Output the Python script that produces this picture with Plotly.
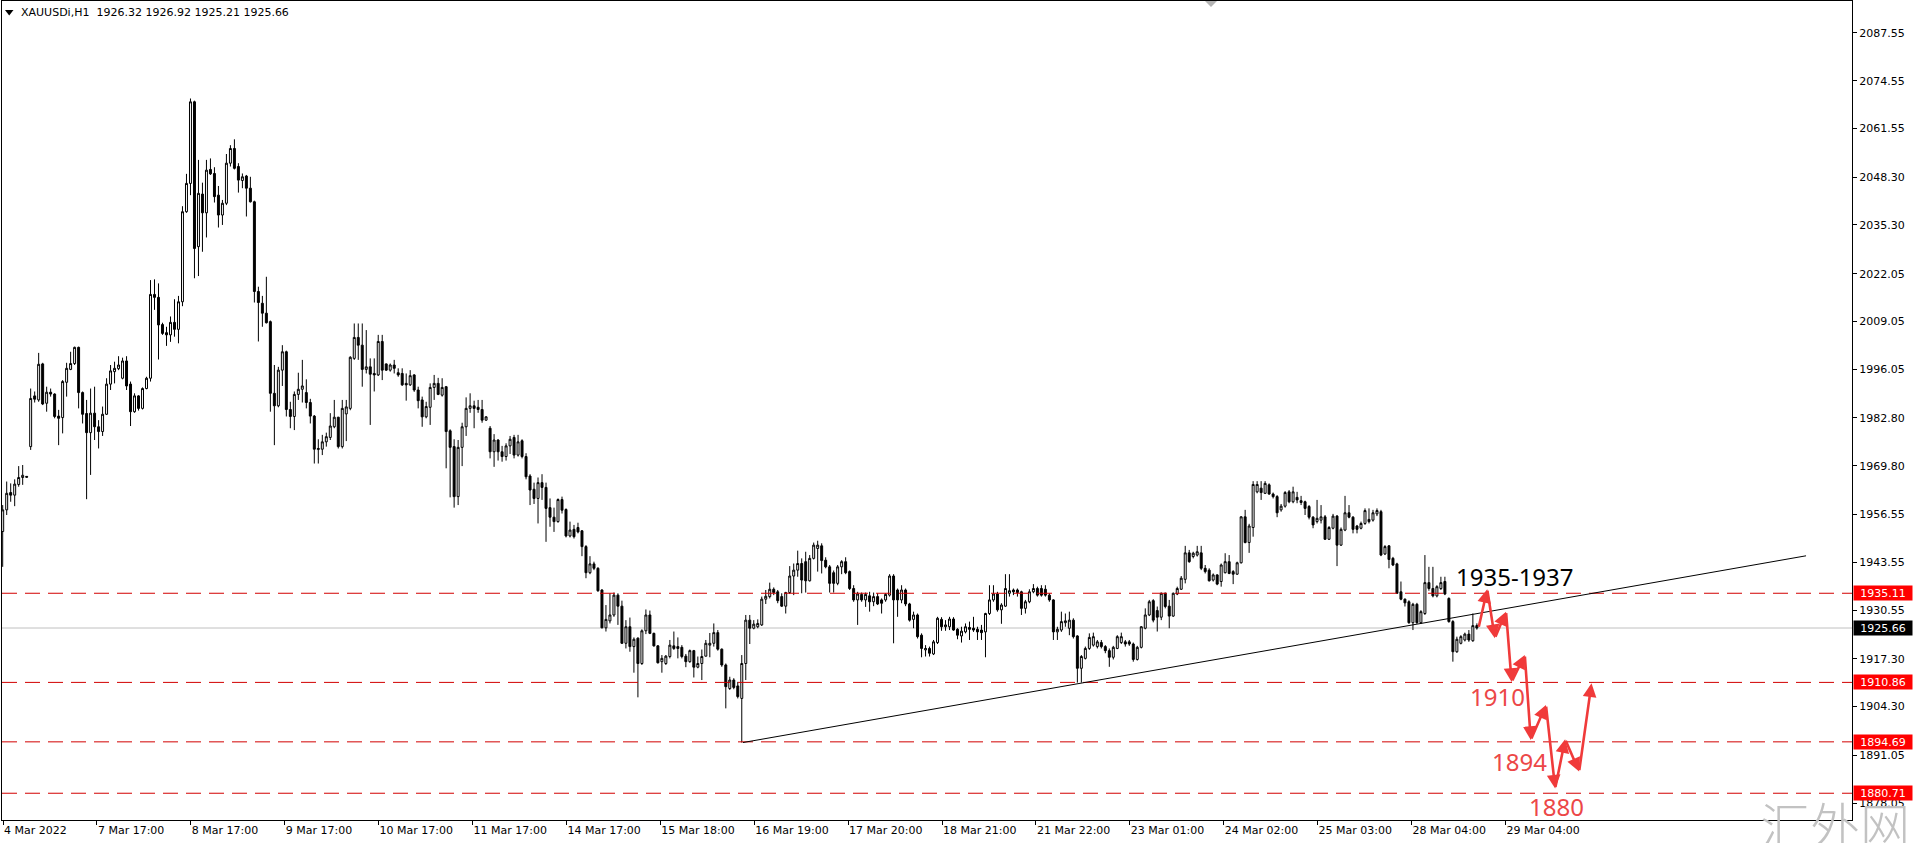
import plotly.graph_objects as go

# ---------------- data (XAUUSDi, H1) ----------------
opens = [
    1951.9, 1957.8, 1962.5, 1961.8, 1964.7, 1966.6, 1966.9, 1975.0, 1988.8, 1987.7,
    1997.5, 1986.8, 1989.8, 1989.3, 1983.3, 1982.9, 1992.5, 1996.0, 1997.6, 2002.0,
    1989.7, 1984.0, 1978.8, 1984.1, 1980.4, 1979.1, 1983.8, 1992.0, 1995.4, 1996.2,
    1993.6, 1998.3, 1992.0, 1984.5, 1988.8, 1985.4, 1990.8, 1993.6, 2016.4, 2015.6,
    2008.2, 2006.0, 2005.4, 2008.8, 2006.9, 2014.4, 2038.9, 2046.6, 2068.8, 2029.4,
    2043.7, 2038.6, 2050.4, 2049.3, 2043.4, 2038.0, 2041.2, 2052.1, 2056.1, 2051.2,
    2047.4, 2048.6, 2045.3, 2041.6, 2017.2, 2014.0, 2011.3, 2009.0, 1989.5, 1986.1,
    1995.8, 2000.8, 1985.1, 1983.2, 1989.2, 1990.6, 1989.7, 1987.0, 1983.3, 1974.2,
    1974.3, 1976.3, 1977.5, 1980.4, 1983.0, 1975.0, 1983.9, 1985.4, 1999.0, 2004.7,
    2002.6, 1996.0, 1996.7, 1994.9, 1994.5, 2003.6, 1997.5, 1995.8, 1997.2, 1995.1,
    1994.9, 1992.2, 1991.8, 1994.5, 1990.4, 1987.7, 1983.1, 1985.7, 1991.1, 1992.2,
    1989.0, 1991.3, 1979.3, 1975.0, 1961.4, 1974.8, 1980.4, 1985.4, 1986.1, 1985.7,
    1985.1, 1982.2, 1980.0, 1973.6, 1976.8, 1973.6, 1972.3, 1975.2, 1977.5, 1972.7,
    1976.6, 1972.3, 1967.0, 1963.4, 1960.9, 1965.2, 1963.9, 1958.4, 1955.8, 1954.6,
    1960.6, 1957.9, 1950.7, 1952.5, 1953.0, 1952.1, 1947.8, 1940.7, 1943.1, 1941.9,
    1936.0, 1925.7, 1927.6, 1929.2, 1934.6, 1931.6, 1921.5, 1926.0, 1920.6, 1922.9,
    1916.0, 1924.9, 1929.2, 1924.2, 1920.8, 1916.5, 1916.0, 1917.9, 1920.8, 1920.6,
    1920.4, 1918.0, 1916.5, 1919.5, 1915.0, 1916.0, 1918.0, 1921.0, 1921.5, 1924.4,
    1919.9, 1915.6, 1909.2, 1911.5, 1909.9, 1906.5, 1916.0, 1927.8, 1925.6, 1926.0,
    1926.5, 1933.5, 1934.2, 1936.2, 1935.5, 1934.2, 1931.6, 1935.3, 1939.8, 1941.4,
    1943.2, 1943.7, 1938.5, 1944.6, 1947.3, 1948.0, 1944.1, 1942.3, 1940.7, 1937.8,
    1942.3, 1943.7, 1941.0, 1936.4, 1933.3, 1934.8, 1933.3, 1934.4, 1932.8, 1934.2,
    1933.3, 1933.3, 1934.6, 1939.8, 1936.0, 1933.3, 1936.0, 1932.2, 1928.0, 1929.2,
    1923.7, 1919.7, 1920.1, 1918.6, 1921.7, 1928.0, 1926.0, 1926.0, 1928.1, 1925.3,
    1923.5, 1924.6, 1925.8, 1925.6, 1925.3, 1925.1, 1924.6, 1929.6, 1933.3, 1934.9,
    1930.6, 1931.6, 1935.1, 1936.0, 1936.0, 1935.5, 1931.0, 1932.8, 1935.5, 1936.4,
    1936.4, 1936.2, 1934.6, 1933.3, 1924.6, 1925.1, 1927.1, 1925.6, 1927.8, 1923.5,
    1914.7, 1917.4, 1920.1, 1921.0, 1920.6, 1921.7, 1920.6, 1919.5, 1917.7, 1920.1,
    1921.7, 1921.9, 1921.9, 1921.3, 1917.1, 1920.4, 1925.6, 1929.2, 1933.1, 1930.4,
    1928.6, 1935.1, 1931.6, 1928.9, 1934.9, 1936.2, 1938.9, 1946.1, 1945.1, 1945.5,
    1946.1, 1941.9, 1941.4, 1938.7, 1940.1, 1938.3, 1940.7, 1943.7, 1941.0, 1940.3,
    1943.4, 1955.9, 1948.9, 1953.0, 1962.7, 1963.7, 1962.3, 1964.6, 1962.1, 1961.4,
    1957.8, 1958.8, 1962.7, 1960.0, 1961.2, 1960.3, 1960.0, 1958.7, 1955.8, 1954.6,
    1955.0, 1955.9, 1949.8, 1952.8, 1956.1, 1948.2, 1952.3, 1957.0, 1955.8, 1953.4,
    1952.8, 1954.1, 1955.2, 1955.0, 1956.7, 1957.3, 1945.8, 1948.0, 1944.6, 1943.1,
    1935.5, 1933.5, 1932.8, 1927.1, 1932.1, 1927.1, 1929.6, 1938.0, 1936.4, 1934.4,
    1936.4, 1938.3, 1933.7, 1927.4, 1919.2, 1921.5, 1922.4, 1924.0, 1922.2, 1926.32,
]
highs = [
    1959.1, 1965.5, 1965.0, 1966.1, 1969.7, 1970.0, 1967.0, 1990.8, 1990.0, 2000.5,
    1997.8, 1991.3, 1990.8, 1989.5, 1985.0, 1993.1, 1997.8, 2000.8, 2002.2, 2002.2,
    1990.0, 1987.7, 1990.8, 1991.3, 1982.2, 1985.9, 1993.6, 1997.2, 1998.1, 1999.6,
    1999.2, 1999.6, 1992.7, 1989.5, 1989.0, 1991.1, 1994.0, 2020.3, 2020.5, 2019.4,
    2008.7, 2007.6, 2010.4, 2015.1, 2016.0, 2040.4, 2049.2, 2069.7, 2069.1, 2053.0,
    2046.8, 2053.0, 2053.4, 2051.0, 2045.9, 2042.1, 2054.6, 2057.0, 2058.6, 2052.1,
    2049.3, 2048.9, 2048.4, 2041.9, 2018.5, 2016.0, 2021.2, 2009.3, 1997.2, 1996.7,
    2002.6, 2001.1, 1987.2, 1990.0, 1995.1, 1998.6, 1993.3, 1988.0, 1983.6, 1977.0,
    1978.2, 1978.8, 1984.1, 1987.7, 1983.1, 1987.7, 1987.7, 1999.6, 2008.5, 2008.5,
    2008.5, 2006.7, 1999.0, 1999.0, 2005.4, 2005.4, 1997.6, 1997.6, 1998.6, 1996.3,
    1996.3, 1994.9, 1995.8, 1994.7, 1991.3, 1988.6, 1987.2, 1992.2, 1994.5, 1993.7,
    1993.6, 1991.5, 1979.7, 1977.0, 1976.8, 1981.5, 1988.4, 1989.5, 1987.5, 1987.7,
    1987.7, 1983.3, 1980.6, 1978.4, 1977.0, 1975.2, 1975.9, 1977.9, 1978.2, 1978.2,
    1977.0, 1973.2, 1967.5, 1965.2, 1966.6, 1967.5, 1965.2, 1960.9, 1958.4, 1960.9,
    1961.4, 1958.2, 1954.6, 1953.7, 1954.3, 1952.3, 1948.2, 1945.2, 1943.7, 1942.2,
    1936.2, 1931.9, 1935.1, 1935.3, 1935.1, 1933.1, 1927.8, 1928.5, 1923.1, 1923.1,
    1925.3, 1930.7, 1930.4, 1924.4, 1921.0, 1918.3, 1918.3, 1922.4, 1924.7, 1923.1,
    1921.0, 1918.6, 1919.8, 1919.7, 1917.9, 1919.8, 1922.4, 1924.3, 1926.9, 1925.1,
    1920.1, 1916.0, 1912.4, 1912.0, 1911.0, 1918.3, 1929.2, 1929.2, 1927.8, 1928.0,
    1934.2, 1936.0, 1938.0, 1936.7, 1936.0, 1935.1, 1935.5, 1942.5, 1943.2, 1946.7,
    1944.6, 1946.4, 1945.5, 1948.9, 1949.4, 1948.7, 1944.9, 1942.8, 1941.3, 1942.8,
    1944.1, 1944.9, 1941.3, 1937.3, 1935.5, 1935.3, 1935.3, 1935.5, 1935.3, 1935.1,
    1933.7, 1935.1, 1940.3, 1940.3, 1936.4, 1937.3, 1936.4, 1932.5, 1930.1, 1929.6,
    1924.2, 1921.0, 1920.6, 1922.4, 1928.7, 1928.6, 1927.8, 1928.7, 1928.6, 1925.6,
    1926.0, 1926.9, 1927.4, 1928.7, 1926.0, 1926.5, 1929.8, 1937.3, 1937.3, 1935.5,
    1932.4, 1940.3, 1940.3, 1936.4, 1936.4, 1935.8, 1933.3, 1936.2, 1937.6, 1936.9,
    1937.3, 1937.3, 1935.1, 1933.5, 1926.0, 1930.1, 1929.6, 1930.1, 1928.3, 1923.7,
    1918.3, 1920.6, 1924.2, 1924.4, 1922.4, 1922.4, 1921.0, 1920.1, 1920.8, 1923.7,
    1924.4, 1922.4, 1922.4, 1921.7, 1920.8, 1926.2, 1931.0, 1933.3, 1933.5, 1931.5,
    1935.3, 1935.3, 1933.3, 1935.3, 1936.9, 1939.8, 1948.0, 1946.9, 1946.4, 1948.0,
    1948.0, 1942.8, 1941.9, 1940.5, 1940.3, 1943.2, 1946.0, 1945.5, 1941.4, 1943.7,
    1956.1, 1957.8, 1954.0, 1965.6, 1965.6, 1965.6, 1965.6, 1965.0, 1962.5, 1961.8,
    1959.4, 1962.9, 1963.2, 1964.1, 1962.7, 1961.6, 1960.3, 1959.1, 1956.1, 1960.5,
    1959.1, 1956.4, 1953.4, 1956.7, 1956.4, 1953.0, 1961.6, 1959.1, 1956.1, 1953.7,
    1954.6, 1958.2, 1958.2, 1957.8, 1958.2, 1957.8, 1948.2, 1948.2, 1945.0, 1943.4,
    1938.3, 1933.7, 1933.2, 1932.5, 1932.5, 1930.5, 1945.5, 1942.3, 1942.3, 1937.3,
    1939.6, 1939.6, 1934.0, 1927.8, 1923.3, 1923.7, 1924.4, 1925.1, 1929.6, 1926.92,
]
lows = [
    1942.3, 1956.4, 1960.0, 1958.8, 1964.1, 1964.6, 1966.6, 1974.1, 1987.0, 1987.2,
    1986.3, 1984.5, 1988.6, 1982.7, 1975.4, 1978.6, 1988.6, 1995.8, 1997.2, 1985.4,
    1981.3, 1960.7, 1967.3, 1976.8, 1974.5, 1977.9, 1983.6, 1990.4, 1992.2, 1995.8,
    1993.3, 1990.4, 1980.6, 1984.2, 1984.8, 1985.1, 1990.6, 1992.7, 2012.2, 1998.7,
    2005.4, 2002.4, 2003.5, 2004.9, 2003.1, 2013.2, 2038.6, 2043.4, 2020.8, 2021.4,
    2028.0, 2031.9, 2048.9, 2041.4, 2034.6, 2035.3, 2040.7, 2051.2, 2050.4, 2044.1,
    2045.3, 2037.6, 2041.4, 2014.2, 2003.6, 2007.6, 2008.5, 1984.5, 1975.4, 1985.7,
    1991.5, 1983.2, 1980.0, 1979.5, 1987.7, 1987.0, 1985.4, 1981.3, 1970.4, 1970.4,
    1972.7, 1975.0, 1976.8, 1980.0, 1974.5, 1974.5, 1976.5, 1984.9, 1998.6, 1998.6,
    1991.3, 1994.9, 1980.9, 1990.0, 1994.2, 1993.1, 1995.6, 1995.4, 1994.9, 1994.0,
    1991.5, 1987.5, 1991.5, 1989.9, 1985.4, 1980.4, 1982.7, 1980.9, 1987.7, 1989.0,
    1988.6, 1969.1, 1961.2, 1958.4, 1959.1, 1969.7, 1977.9, 1984.2, 1980.0, 1984.2,
    1981.5, 1982.0, 1971.8, 1969.5, 1971.2, 1970.9, 1971.2, 1973.0, 1971.8, 1972.3,
    1971.8, 1966.1, 1959.1, 1959.4, 1954.1, 1960.5, 1949.1, 1953.2, 1951.8, 1954.3,
    1956.8, 1950.3, 1950.3, 1950.0, 1951.4, 1945.2, 1939.2, 1940.3, 1941.4, 1935.5,
    1925.6, 1924.7, 1926.9, 1928.7, 1926.5, 1921.3, 1920.1, 1919.2, 1913.5, 1906.8,
    1915.6, 1924.0, 1924.0, 1920.6, 1916.0, 1913.5, 1915.6, 1917.4, 1919.7, 1917.4,
    1917.4, 1915.0, 1916.2, 1912.2, 1914.7, 1911.5, 1917.9, 1917.7, 1920.6, 1919.5,
    1915.1, 1903.8, 1908.8, 1909.0, 1906.5, 1894.5, 1911.5, 1921.3, 1925.3, 1925.6,
    1926.2, 1932.2, 1933.7, 1934.6, 1932.4, 1931.4, 1929.6, 1934.9, 1934.6, 1939.6,
    1935.1, 1935.3, 1938.3, 1944.3, 1941.0, 1940.5, 1941.9, 1935.3, 1935.3, 1937.3,
    1940.3, 1940.3, 1936.0, 1932.8, 1926.5, 1932.8, 1931.4, 1930.1, 1931.6, 1931.9,
    1929.6, 1932.8, 1934.2, 1921.5, 1928.7, 1932.4, 1931.6, 1927.4, 1925.6, 1922.8,
    1917.7, 1917.9, 1917.9, 1918.3, 1921.3, 1924.9, 1924.9, 1925.1, 1924.9, 1922.6,
    1921.7, 1924.2, 1922.4, 1924.6, 1922.4, 1922.4, 1917.7, 1929.2, 1932.8, 1930.1,
    1926.8, 1931.4, 1934.2, 1934.6, 1934.2, 1929.2, 1929.6, 1932.4, 1935.1, 1934.2,
    1934.2, 1934.2, 1932.8, 1922.4, 1922.4, 1924.6, 1926.0, 1923.7, 1922.8, 1910.8,
    1910.8, 1917.1, 1919.7, 1920.6, 1920.1, 1920.1, 1918.8, 1915.1, 1917.1, 1919.9,
    1921.3, 1920.6, 1920.8, 1916.5, 1916.8, 1920.1, 1925.3, 1928.9, 1927.2, 1924.7,
    1927.8, 1931.0, 1925.6, 1928.7, 1934.6, 1936.0, 1937.8, 1943.4, 1944.6, 1945.1,
    1941.4, 1940.5, 1938.3, 1938.3, 1937.3, 1936.9, 1940.5, 1940.3, 1937.6, 1940.1,
    1943.2, 1948.7, 1946.1, 1950.5, 1962.3, 1960.5, 1962.1, 1961.9, 1960.9, 1955.8,
    1957.3, 1958.4, 1959.6, 1959.6, 1959.6, 1959.1, 1956.4, 1955.2, 1952.8, 1954.1,
    1954.1, 1949.6, 1949.6, 1952.5, 1942.5, 1948.0, 1952.0, 1955.5, 1951.4, 1951.4,
    1952.5, 1953.7, 1954.1, 1954.6, 1956.1, 1945.2, 1945.5, 1941.9, 1942.5, 1934.9,
    1933.2, 1931.5, 1926.8, 1925.1, 1926.8, 1926.8, 1929.2, 1935.8, 1934.0, 1934.0,
    1936.0, 1934.6, 1927.1, 1916.5, 1918.9, 1921.2, 1922.0, 1921.9, 1921.9, 1925.21,
]
closes = [
    1957.8, 1962.3, 1961.8, 1964.8, 1966.6, 1967.2, 1966.7, 1988.1, 1987.9, 1997.4,
    1986.6, 1989.8, 1989.3, 1983.2, 1982.7, 1992.7, 1996.3, 1997.6, 2002.0, 1989.7,
    1983.8, 1978.8, 1984.1, 1980.4, 1979.1, 1983.8, 1992.0, 1995.6, 1996.3, 1997.2,
    1998.3, 1991.5, 1984.5, 1988.8, 1985.4, 1990.8, 1993.6, 2016.4, 2015.6, 2008.1,
    2005.8, 2005.4, 2008.8, 2006.9, 2014.4, 2038.9, 2046.6, 2068.8, 2028.9, 2043.9,
    2038.6, 2050.2, 2049.2, 2043.0, 2038.0, 2041.2, 2052.1, 2056.1, 2050.7, 2047.5,
    2048.4, 2045.3, 2041.6, 2017.2, 2014.2, 2011.3, 2008.7, 1989.5, 1986.1, 1995.8,
    2000.8, 1985.1, 1983.2, 1989.2, 1990.6, 1991.5, 1987.0, 1983.3, 1974.3, 1974.5,
    1976.3, 1977.7, 1980.6, 1983.0, 1975.0, 1985.4, 1985.8, 1999.3, 2004.7, 2002.6,
    1996.0, 1996.7, 1994.7, 1994.5, 2003.6, 1995.8, 1995.8, 1997.2, 1996.3, 1994.5,
    1991.8, 1991.8, 1994.3, 1990.4, 1987.5, 1983.1, 1985.9, 1991.1, 1992.2, 1989.2,
    1991.1, 1979.1, 1974.8, 1961.4, 1974.8, 1980.4, 1985.4, 1986.1, 1985.4, 1985.1,
    1982.2, 1983.1, 1973.6, 1976.8, 1973.6, 1972.3, 1975.2, 1977.0, 1972.7, 1976.3,
    1972.3, 1966.8, 1963.2, 1960.9, 1965.2, 1963.9, 1958.2, 1955.8, 1954.6, 1960.6,
    1957.7, 1950.7, 1952.3, 1950.5, 1951.8, 1947.8, 1940.7, 1943.1, 1941.9, 1935.8,
    1925.7, 1928.0, 1929.2, 1934.6, 1931.6, 1921.5, 1926.0, 1920.6, 1922.6, 1916.0,
    1924.9, 1929.2, 1924.2, 1920.8, 1916.2, 1917.4, 1918.0, 1921.0, 1920.1, 1920.1,
    1917.9, 1916.5, 1919.5, 1915.0, 1916.0, 1917.9, 1921.5, 1921.5, 1924.4, 1919.9,
    1915.6, 1909.7, 1911.5, 1909.5, 1907.0, 1916.0, 1927.8, 1925.6, 1926.7, 1926.9,
    1933.5, 1934.3, 1936.2, 1935.3, 1933.1, 1931.6, 1935.3, 1939.8, 1941.4, 1943.2,
    1938.7, 1938.5, 1944.6, 1948.2, 1948.2, 1944.0, 1942.3, 1937.8, 1937.8, 1942.3,
    1943.7, 1940.7, 1936.4, 1933.3, 1934.9, 1933.3, 1934.8, 1932.8, 1934.2, 1932.2,
    1932.4, 1934.8, 1939.8, 1933.3, 1933.3, 1936.0, 1932.2, 1927.8, 1929.2, 1923.3,
    1920.1, 1920.1, 1918.8, 1921.9, 1928.3, 1926.0, 1926.5, 1928.1, 1925.1, 1923.7,
    1924.8, 1926.0, 1925.3, 1925.1, 1924.6, 1924.4, 1929.6, 1933.3, 1934.9, 1930.6,
    1931.9, 1936.4, 1935.8, 1935.5, 1935.3, 1931.0, 1932.8, 1935.5, 1936.4, 1934.6,
    1934.6, 1934.6, 1933.3, 1924.6, 1925.3, 1927.4, 1927.6, 1927.8, 1923.3, 1914.7,
    1917.9, 1920.1, 1923.1, 1923.3, 1921.9, 1920.6, 1919.5, 1917.7, 1920.4, 1923.3,
    1923.3, 1921.3, 1921.3, 1917.1, 1920.4, 1926.0, 1929.2, 1932.8, 1927.8, 1928.6,
    1935.1, 1931.5, 1928.9, 1935.1, 1936.4, 1939.2, 1946.1, 1943.7, 1946.0, 1946.4,
    1941.9, 1941.0, 1938.5, 1940.1, 1937.6, 1942.8, 1943.7, 1940.5, 1940.3, 1943.4,
    1955.9, 1948.9, 1953.4, 1964.7, 1964.7, 1962.5, 1965.0, 1962.1, 1961.4, 1957.0,
    1958.8, 1962.5, 1960.0, 1962.7, 1960.5, 1959.8, 1958.2, 1955.8, 1953.7, 1955.5,
    1955.9, 1949.8, 1953.0, 1956.1, 1948.2, 1952.5, 1957.0, 1955.8, 1952.5, 1952.5,
    1954.1, 1957.6, 1954.6, 1957.0, 1957.6, 1945.5, 1947.8, 1944.3, 1942.8, 1935.1,
    1933.5, 1932.5, 1927.1, 1932.1, 1927.1, 1930.1, 1938.0, 1936.4, 1934.4, 1936.9,
    1938.0, 1934.9, 1927.4, 1919.2, 1922.6, 1923.3, 1924.0, 1922.4, 1926.3, 1925.66,
]

symbol_title = "XAUUSDi,H1\u00a0\u00a01926.32 1926.92 1925.21 1925.66"
price_ticks = [2087.55, 2074.55, 2061.55, 2048.30, 2035.30, 2022.05, 2009.05, 1996.05,
               1982.80, 1969.80, 1956.55, 1943.55, 1930.55, 1917.30, 1904.30, 1891.05, 1878.05]
time_labels = ["4 Mar 2022", "7 Mar 17:00", "8 Mar 17:00", "9 Mar 17:00", "10 Mar 17:00",
               "11 Mar 17:00", "14 Mar 17:00", "15 Mar 18:00", "16 Mar 19:00", "17 Mar 20:00",
               "18 Mar 21:00", "21 Mar 22:00", "23 Mar 01:00", "24 Mar 02:00", "25 Mar 03:00",
               "28 Mar 04:00", "29 Mar 04:00"]
level_prices = [1935.11, 1910.86, 1894.69, 1880.71]
bid_price = 1925.66
# trend line anchors: (bar index, price)
trend_a = (185.3, 1894.5)
trend_b = (451.4, 1945.3)
# forecast zig-zag: bar positions (beyond last bar) and prices
forecast_bars = [369.4, 371.6, 373.5, 376.3, 377.7, 381.0, 382.5, 386.3, 388.6, 391.1, 394.6, 397.7]
forecast_prices = [1925.6, 1936.2, 1922.9, 1930.1, 1911.0, 1918.3, 1895.2, 1904.7, 1882.0, 1895.4, 1886.6, 1910.6]
notes = [("1935-1937", 363.3, 1939.6, "black"),
         ("1910", 366.9, 1907.0, "red"),
         ("1894", 372.3, 1889.3, "red"),
         ("1880", 381.5, 1877.0, "red")]

# ---------------- geometry ----------------
W, H = 1918, 843
PL, PR, PT, PB = 2, 1852, 1, 820
BAR_PX = 3.995
FIRST_PX = 2.7
Y_LO, Y_HI = 1873.43, 2096.22


def bar_of_px(px):
    return (px - FIRST_PX) / BAR_PX


def xp(px):
    return (px - PL) / (PR - PL)


def yp(py):
    return (PB - py) / (PB - PT)


RED_LINE = "#D20000"
RED_ARROW = "#F03A3A"
RED_TEXT = "#EC4747"
FONT = "DejaVu Sans"

bars = list(range(len(opens)))
time_tick_px = [3 + 93.9 * k for k in range(len(time_labels))]

fig = go.Figure()
fig.add_trace(go.Candlestick(
    x=bars, open=opens, high=highs, low=lows, close=closes,
    increasing=dict(line=dict(color="black", width=1), fillcolor="white"),
    decreasing=dict(line=dict(color="black", width=1), fillcolor="black"),
    whiskerwidth=0, hoverinfo="skip", showlegend=False,
))

shapes = []
for lv in level_prices:
    shapes.append(dict(type="line", xref="paper", yref="y", x0=0, x1=1, y0=lv, y1=lv,
                       line=dict(color=RED_LINE, width=1, dash="15px,8px"), layer="above"))
shapes.append(dict(type="line", xref="paper", yref="y", x0=0, x1=1, y0=bid_price, y1=bid_price,
                   line=dict(color="#C0C0C0", width=1), layer="below"))
shapes.append(dict(type="line", xref="x", yref="y", x0=trend_a[0], y0=trend_a[1],
                   x1=trend_b[0], y1=trend_b[1], line=dict(color="black", width=1)))
# symbol menu triangle
shapes.append(dict(type="path", xref="paper", yref="paper",
                   path=f"M{xp(5)},{yp(10)} L{xp(13.5)},{yp(10)} L{xp(9.2)},{yp(15.5)} Z",
                   fillcolor="black", line=dict(width=0)))
# chart shift marker
shapes.append(dict(type="path", xref="paper", yref="paper",
                   path=f"M{xp(1205)},{yp(1)} L{xp(1217)},{yp(1)} L{xp(1211)},{yp(7)} Z",
                   fillcolor="#B4B4B4", line=dict(width=0)))

annotations = []
annotations.append(dict(xref="paper", yref="paper", x=xp(19), y=yp(12.5), xanchor="left",
                        yanchor="middle", text=symbol_title, showarrow=False,
                        font=dict(family=FONT, size=11, color="black")))
for lv in level_prices:
    annotations.append(dict(xref="paper", yref="y", x=xp(1853), y=lv, xanchor="left",
                            yanchor="middle", text=f"{lv:.2f}", showarrow=False,
                            bgcolor="#FF0000", width=58, height=14, borderpad=0,
                            font=dict(family=FONT, size=11, color="white")))
annotations.append(dict(xref="paper", yref="y", x=xp(1853), y=bid_price, xanchor="left",
                        yanchor="middle", text=f"{bid_price:.2f}", showarrow=False,
                        bgcolor="black", width=58, height=14, borderpad=0,
                        font=dict(family=FONT, size=11, color="white")))
for k in range(1, len(forecast_bars)):
    annotations.append(dict(xref="x", yref="y", axref="x", ayref="y",
                            x=forecast_bars[k], y=forecast_prices[k],
                            ax=forecast_bars[k - 1], ay=forecast_prices[k - 1],
                            text="", showarrow=True, arrowhead=2, arrowsize=1.05,
                            arrowwidth=2.6, arrowcolor=RED_ARROW, standoff=0, startstandoff=0))
for txt, bx, pr, col in notes:
    annotations.append(dict(xref="x", yref="y", x=bx, y=pr, xanchor="left", yanchor="middle",
                            text=txt, showarrow=False,
                            font=dict(family="Noto Sans", size=24,
                                      color="black" if col == "black" else RED_TEXT)))
annotations.append(dict(xref="paper", yref="paper", x=xp(1758), y=yp(823), xanchor="left",
                        yanchor="middle", text="汇外网", showarrow=False,
                        font=dict(family="Noto Sans CJK SC", size=50, color="#C2C2C2",
                                  weight=300)))

fig.update_layout(
    width=W, height=H, template="none",
    margin=dict(l=PL, r=W - PR, t=PT, b=H - PB, pad=0, autoexpand=False),
    paper_bgcolor="white", plot_bgcolor="white", showlegend=False, hovermode=False,
    font=dict(family=FONT, size=11, color="black"),
    xaxis=dict(range=[bar_of_px(PL), bar_of_px(PR)], rangeslider=dict(visible=False),
               showgrid=False, zeroline=False, tickmode="array",
               tickvals=[bar_of_px(p) for p in time_tick_px], ticktext=time_labels,
               ticks="outside", ticklen=4, tickcolor="black", tickwidth=1,
               ticklabelposition="outside right", showline=True, linecolor="black",
               linewidth=1, mirror=True, automargin=False, fixedrange=True,
               tickfont=dict(family=FONT, size=11, color="black")),
    yaxis=dict(side="right", range=[Y_LO, Y_HI], showgrid=False, zeroline=False,
               tickmode="array", tickvals=price_ticks,
               ticktext=[f"{v:.2f}" for v in price_ticks],
               ticks="outside", ticklen=4, tickcolor="black", tickwidth=1,
               showline=True, linecolor="black", linewidth=1, mirror=True,
               automargin=False, fixedrange=True,
               tickfont=dict(family=FONT, size=11, color="black")),
    shapes=shapes, annotations=annotations,
)

fig.write_html("out.html", config={"displayModeBar": False, "staticPlot": True},
               post_script="document.body.style.margin='0';document.body.style.overflow='hidden';")
